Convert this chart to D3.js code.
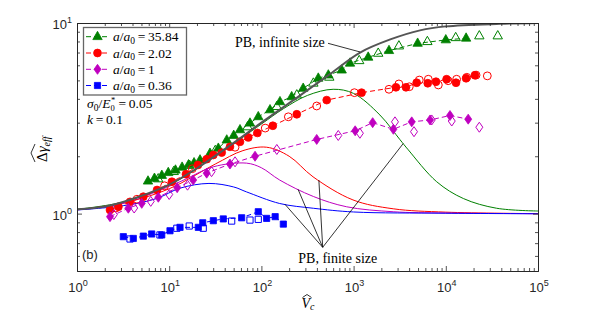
<!DOCTYPE html>
<html><head><meta charset="utf-8">
<script src="https://cdn.jsdelivr.net/npm/d3@7"></script>
<style>body{margin:0;background:#fff}svg{display:block}</style>
</head><body>
<svg id="c" width="595" height="312"></svg>
<script>
// ---------- data ----------
const xTickValues = [1, 10, 100, 1000, 10000, 100000];
const xTickExponents = ["0", "1", "2", "3", "4", "5"];
const yTickValues = [1, 10];
const yTickExponents = ["0", "1"];

const legendLabels = ["35.84", "2.02", "1", "0.36"];
const seriesColors = ["#008000", "#ff0000", "#bf00bf", "#0000ff"];

// theory curves [Vc, Δγ]
const pbInfinite = [[1,1.053],[2,1.09],[3.16,1.15],[5,1.24],[10,1.42],[20,1.73],[50,2.35],[100,3.0],[250,4.1],[555,5.4],[1175,7.0],[2500,8.2],[5250,9.15],[10000,9.6],[39000,9.9],[100000,10.0]];
const pbFinite3584 = [[1,1.053],[3.16,1.15],[10,1.41],[31.6,2.0],[100,2.95],[173,3.55],[316,4.17],[600,4.49],[1000,4.27],[1930,3.29],[3190,2.44],[3920,2.16],[7960,1.47],[15500,1.2],[35600,1.067],[100000,1.032]];
const pbFinite202 = [[1,1.047],[3.16,1.135],[10,1.35],[31.6,1.82],[63,2.14],[114,2.23],[200,2.0],[363,1.56],[984,1.18],[2690,1.06],[10000,1.018],[100000,1.0]];
const pbFinite1 = [[1,1.047],[3.16,1.13],[13.1,1.47],[30,1.76],[69,1.84],[100,1.74],[158,1.5],[366,1.23],[841,1.086],[2690,1.023],[10000,1.007],[100000,1.0]];
const pbFinite036 = [[1,1.045],[3.16,1.1],[7.3,1.2],[13.1,1.36],[27,1.44],[50,1.38],[69,1.3],[158,1.13],[366,1.067],[1000,1.02],[10000,1.005],[100000,0.998]];

// measured points [Vc, Δγ] filled / open
const green3584Filled = [[5.89,1.48],[6.92,1.53],[8.32,1.585],[9.77,1.64],[11.7,1.69],[13.8,1.75],[16.2,1.8],[18.6,1.845],[21.6,1.91],[27.7,2.07],[34.1,2.2],[42.1,2.43],[50.1,2.57],[58.6,2.75],[75.2,2.98],[92.5,3.22],[124,3.5],[159,3.86],[213,4.1],[284,4.54],[414,5.13],[532,5.33],[743,5.66],[914,6.15],[1440,6.61],[2420,7.16],[4950,7.82],[10000,8.15],[16600,8.32]];
const green3584Open = [[7.6,1.52],[11.2,1.66],[16.6,1.79],[31.6,2.14],[70.8,2.85],[147,3.64],[242,4.19],[366,4.83],[545,5.19],[1150,6.34],[1850,6.93],[3100,7.57],[6310,7.98],[12800,8.37],[23100,8.55],[36600,8.55]];
const red202Filled = [[2.28,1.045],[2.81,1.086],[3.76,1.153],[5.24,1.227],[7.38,1.33],[10.7,1.47],[15.2,1.61],[20.5,1.8],[25.5,1.93],[30.1,2.03],[37.1,2.09],[45.6,2.24],[58.6,2.38],[72.1,2.51],[90.4,2.65],[133,2.89],[242,3.32],[511,3.94],[1220,4.31],[2880,4.6],[3700,4.6],[4830,4.86],[6370,4.83],[7830,4.92],[10200,5.07],[12900,4.86],[16600,5.13],[20700,5.32]];
const red202Open = [[2.63,1.07],[4.47,1.19],[8.91,1.4],[17.8,1.72],[51.8,2.23],[110,2.81],[196,3.22],[398,3.67],[1020,4.31],[2420,4.49],[3100,4.79],[4020,4.63],[5160,5.02],[6460,5.07],[8300,4.73],[10600,4.98],[13100,5.07],[16900,5.19],[21300,5.33],[28200,5.28]];
const mag1Filled = [[2.28,0.964],[3.6,1.067],[5.04,1.132],[7.62,1.219],[12.2,1.368],[18.2,1.5],[25.5,1.63],[45.6,1.82],[85.3,2.0],[398,2.45],[1040,2.72],[1610,3.0],[2700,2.77],[4270,3.03],[6750,3.1],[11100,3.27],[17500,3.13]];
const mag1Open = [[2.51,0.989],[4.17,1.07],[6.31,1.16],[10,1.26],[15.8,1.41],[28.8,1.66],[51.8,1.87],[147,2.17],[682,2.57],[1170,2.64],[2810,3.03],[4520,2.69],[7030,3.1],[11600,3.06],[23100,2.84]];
const blue036Filled = [[3.18,0.757],[4.08,0.741],[5.24,0.762],[6.46,0.782],[8.3,0.773],[10.2,0.813],[13.1,0.847],[20.7,0.847],[23.1,0.895],[30.1,0.918],[38.6,0.938],[61.1,0.951],[92.5,1.023],[114,0.944],[141,0.964],[173,0.881]];
const blue036Open = [[3.76,0.736],[7.94,0.773],[12.1,0.838],[16.5,0.861],[23.4,0.838],[47.6,0.914],[75.2,0.925],[92.5,0.933]];

// annotation anchor points [Vc, Δγ]
const infiniteLabelTarget = [1175, 7.05];
const finiteLabelTargets = [[180, 1.12], [250, 1.34], [420, 1.5], [3450, 2.33]];

// ---------- layout ----------
const L = 77, R = 538, T = 23, B = 271;
const svg = d3.select("#c");
const x = d3.scaleLog().domain([1, 1e5]).range([L, R]);
const y = d3.scaleLog().domain([0.5, 10]).range([B, T]);
const AX = "#262626";

svg.append("defs").append("clipPath").attr("id", "clip")
  .append("rect").attr("x", L).attr("y", T).attr("width", R - L).attr("height", B - T);
const plot = svg.append("g").attr("clip-path", "url(#clip)");

const smooth = d3.line().x(d => x(d[0])).y(d => y(d[1])).curve(d3.curveCatmullRom.alpha(0.5));
const straight = d3.line().x(d => x(d[0])).y(d => y(d[1]));

// theory (finite size)
[[pbFinite3584, 0], [pbFinite202, 1], [pbFinite1, 2], [pbFinite036, 3]].forEach(([d, i]) => {
  plot.append("path").attr("d", smooth(d)).attr("fill", "none")
    .attr("stroke", seriesColors[i]).attr("stroke-width", 1);
});

// marker shapes
function markerPath(kind) {
  if (kind === 0) return "M0,-5.4 L4.7,2.9 L-4.7,2.9 Z";
  if (kind === 1) return d3.symbol(d3.symbolCircle, 48)();
  if (kind === 2) return "M0,-5 L3.5,0 L0,5 L-3.5,0 Z";
  return "M-3.1,-3.1 H3.1 V3.1 H-3.1 Z";
}
const sets = [
  [green3584Filled, green3584Open, 0],
  [red202Filled, red202Open, 1],
  [mag1Filled, mag1Open, 2],
  [blue036Filled, blue036Open, 3]
];
sets.forEach(([filled, open, i]) => {
  const c = seriesColors[i];
  plot.append("path").attr("d", straight(filled)).attr("fill", "none")
    .attr("stroke", c).attr("stroke-width", 1).attr("stroke-dasharray", "5,3");
  plot.selectAll(null).data(open).enter().append("path")
    .attr("d", markerPath(i)).attr("transform", d => `translate(${x(d[0])},${y(d[1])})`)
    .attr("fill", "none").attr("stroke", c).attr("stroke-width", 1);
  plot.selectAll(null).data(filled).enter().append("path")
    .attr("d", markerPath(i)).attr("transform", d => `translate(${x(d[0])},${y(d[1])})`)
    .attr("fill", c).attr("stroke", c).attr("stroke-width", 0.8);
});

// PB infinite
plot.append("path").attr("d", smooth(pbInfinite)).attr("fill", "none")
  .attr("stroke", "#555555").attr("stroke-width", 2);

// ---------- axes ----------
const xMinor = [], yMinor = [];
for (let d = 0; d < 5; d++) for (let k = 2; k <= 9; k++) xMinor.push(k * Math.pow(10, d));
[0.6, 0.7, 0.8, 0.9, 2, 3, 4, 5, 6, 7, 8, 9].forEach(v => yMinor.push(v));

function styleAxis(g) {
  g.selectAll("path.domain").attr("stroke", AX).attr("stroke-width", 1);
  g.selectAll(".tick line").attr("stroke", AX).attr("stroke-width", 0.8);
  g.selectAll(".tick text").remove();
}
const axes = [
  [d3.axisBottom(x), `translate(0,${B})`, xTickValues, xMinor],
  [d3.axisTop(x), `translate(0,${T})`, xTickValues, xMinor],
  [d3.axisLeft(y), `translate(${L},0)`, yTickValues, yMinor],
  [d3.axisRight(y), `translate(${R},0)`, yTickValues, yMinor]
];
axes.forEach(([ax, tr, major, minor]) => {
  svg.append("g").attr("transform", tr).call(ax.tickValues(major).tickSize(-5).tickSizeOuter(0).tickFormat(() => "")).call(styleAxis);
  svg.append("g").attr("transform", tr).call(ax.tickValues(minor).tickSize(-3).tickSizeOuter(0).tickFormat(() => "")).call(styleAxis);
});

const tickFont = "'Liberation Sans', Arial, sans-serif";
xTickValues.forEach((v, i) => {
  const t = svg.append("text").attr("x", x(v) + 1).attr("y", B + 21).attr("text-anchor", "middle")
    .attr("font-family", tickFont).attr("font-size", 13).attr("fill", AX);
  t.append("tspan").text("10");
  t.append("tspan").attr("dy", -6).attr("font-size", 9).text(xTickExponents[i]);
});
yTickValues.forEach((v, i) => {
  const t = svg.append("text").attr("x", L - 5).attr("y", y(v) + 6).attr("text-anchor", "end")
    .attr("font-family", tickFont).attr("font-size", 13).attr("fill", AX);
  t.append("tspan").text("10");
  t.append("tspan").attr("dy", -6).attr("font-size", 9).text(yTickExponents[i]);
});

// axis titles
const serif = "'Liberation Serif', 'Times New Roman', serif";
const xl = svg.append("text").attr("x", 301.5).attr("y", 307.5).attr("font-family", serif).attr("font-size", 14).attr("fill", "#000");
xl.append("tspan").attr("font-style", "italic").text("V");
xl.append("tspan").attr("font-style", "italic").attr("font-size", 10).attr("dy", 2).text("c");
svg.append("path").attr("d", "M302.5,297.5 L307,294.5 L311.5,297.5").attr("fill", "none").attr("stroke", "#000").attr("stroke-width", 0.8);

const yl = svg.append("g").attr("transform", "translate(47,147) rotate(-90)");
const ylt = yl.append("text").attr("x", -15).attr("y", 0).attr("font-family", serif).attr("font-size", 15).attr("fill", "#000");
ylt.append("tspan").text("Δ");
ylt.append("tspan").attr("font-style", "italic").text("γ");
ylt.append("tspan").attr("font-style", "italic").attr("font-size", 10).attr("dy", 3).text("eff");
yl.append("path").attr("d", "M-15,-12 L-6,-16 L3,-12").attr("fill", "none").attr("stroke", "#000").attr("stroke-width", 0.8);

// ---------- legend ----------
svg.append("rect").attr("x", 83.5).attr("y", 27.5).attr("width", 103).attr("height", 67.5)
  .attr("fill", "#fff").attr("stroke", "#666").attr("stroke-width", 1.3);
const rowY = [36.7, 53, 69.3, 85.5];
legendLabels.forEach((lab, i) => {
  const c = seriesColors[i], yy = rowY[i];
  svg.append("line").attr("x1", 86).attr("x2", 109).attr("y1", yy).attr("y2", yy)
    .attr("stroke", c).attr("stroke-width", 1).attr("stroke-dasharray", "5,3");
  svg.append("path").attr("d", markerPath(i)).attr("transform", `translate(97.5,${yy})`)
    .attr("fill", c).attr("stroke", c).attr("stroke-width", 0.8);
  const t = svg.append("text").attr("x", 113).attr("y", yy + 4.5).attr("font-family", serif).attr("font-size", 13.5).attr("fill", "#000");
  t.append("tspan").attr("font-style", "italic").text("a");
  t.append("tspan").text("/");
  t.append("tspan").attr("font-style", "italic").text("a");
  t.append("tspan").attr("font-size", 9.5).attr("dy", 2.5).text("0");
  t.append("tspan").attr("dy", -2.5).text("\u2009=\u2009" + lab);
});

// parameters: σ0/E0* = 0.05 (E with stacked * and 0)
const pY = 108;
const p1 = svg.append("text").attr("x", 87).attr("y", pY).attr("font-family", serif).attr("font-size", 13.5).attr("fill", "#000");
p1.append("tspan").attr("font-style", "italic").text("σ");
p1.append("tspan").attr("font-size", 9.5).attr("dy", 2.5).text("0");
p1.append("tspan").attr("dy", -2.5).text("/");
p1.append("tspan").attr("font-style", "italic").text("E");
const eEnd = 87 + p1.node().getComputedTextLength();
const p1b = svg.append("text").attr("x", eEnd).attr("y", pY).attr("font-family", serif).attr("font-size", 13.5).attr("fill", "#000");
p1b.append("tspan").attr("font-size", 8.5).attr("dy", 2.5).text("0");
p1b.append("tspan").attr("font-size", 8.5).attr("dx", -3.6).attr("dy", -8).text("*");
p1b.append("tspan").attr("dx", 0.5).attr("dy", 5.5).text("\u2009=\u20090.05");
const p2 = svg.append("text").attr("x", 87).attr("y", 124).attr("font-family", serif).attr("font-size", 13.5).attr("fill", "#000");
p2.append("tspan").attr("font-style", "italic").text("k");
p2.append("tspan").text("\u2009=\u20090.1");

svg.append("text").attr("x", 82).attr("y", 258.5).attr("font-family", tickFont).attr("font-size", 13).attr("fill", AX).text("(b)");

// ---------- annotations ----------
svg.append("text").attr("x", 235).attr("y", 47).attr("font-family", serif).attr("font-size", 14).attr("fill", "#000").text("PB, infinite size");
svg.append("line").attr("x1", 328).attr("y1", 43.3)
  .attr("x2", x(infiniteLabelTarget[0])).attr("y2", y(infiniteLabelTarget[1]))
  .attr("stroke", "#000").attr("stroke-width", 0.8);

svg.append("text").attr("x", 298.3).attr("y", 263).attr("font-family", serif).attr("font-size", 14).attr("fill", "#000").text("PB, finite size");
const apex = [322.7, 247.3];
finiteLabelTargets.forEach(p => {
  svg.append("line").attr("x1", apex[0]).attr("y1", apex[1]).attr("x2", x(p[0])).attr("y2", y(p[1]))
    .attr("stroke", "#000").attr("stroke-width", 0.8);
});
</script>
</body></html>
